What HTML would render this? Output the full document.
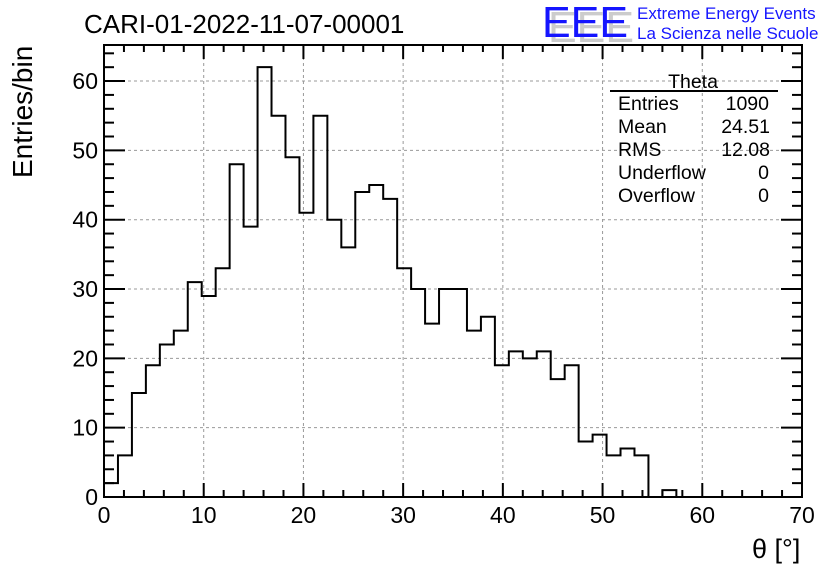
<!DOCTYPE html>
<html><head><meta charset="utf-8"><style>
html,body{margin:0;padding:0;background:#fff;}
svg{display:block;font-family:"Liberation Sans",sans-serif;}
</style></head><body>
<svg id="chart" width="836" height="572" viewBox="0 0 836 572" xmlns="http://www.w3.org/2000/svg">
<rect width="836" height="572" fill="#fff"/>
<text x="84" y="33" font-size="26" fill="#000">CARI-01-2022-11-07-00001</text>
<g>
<text x="548" y="42" font-size="44" fill="#ccc" textLength="86" lengthAdjust="spacingAndGlyphs">EEE</text>
<text x="542" y="37" font-size="44" fill="#1515ff" textLength="86" lengthAdjust="spacingAndGlyphs">EEE</text>
<text x="637" y="19" font-size="17" fill="#1515ff">Extreme Energy Events</text>
<text x="637" y="39" font-size="17" fill="#1515ff">La Scienza nelle Scuole</text>
</g>
<g id="grid"></g>
<g id="ticks"></g>
<path id="hist" fill="none" stroke="#000" stroke-width="2"/>
<rect x="104" y="45" width="698" height="452" fill="none" stroke="#000" stroke-width="2"/>
<g id="labels"></g>
<text transform="translate(32,178) rotate(-90)" font-size="28" fill="#000">Entries/bin</text>
<text x="752" y="558" font-size="27" fill="#000">θ [°]</text>
<g font-size="19.5" fill="#000">
<text x="693" y="88" text-anchor="middle">Theta</text>
<line x1="610" y1="91" x2="778" y2="91" stroke="#000" stroke-width="2"/>
<text x="618" y="110">Entries</text><text x="769" y="110" text-anchor="end">1090</text>
<text x="618" y="133">Mean</text><text x="770" y="133" text-anchor="end">24.51</text>
<text x="618" y="156">RMS</text><text x="770" y="156" text-anchor="end">12.08</text>
<text x="618" y="179">Underflow</text><text x="769" y="179" text-anchor="end">0</text>
<text x="618" y="202">Overflow</text><text x="769" y="202" text-anchor="end">0</text>
</g>
</svg>
<script>
const counts = [2,6,15,19,22,24,31,29,33,48,39,62,55,49,41,55,40,36,44,45,43,33,30,25,30,30,24,26,19,21,20,21,17,19,8,9,6,7,6,0,1,0,0,0,0,0,0,0,0,0];
const binLow = 0;
const binWidth = 1.4;
const xTicks = [0,10,20,30,40,50,60,70];
const yTicks = [0,10,20,30,40,50,60];
const X0=104,X1=802,Y0=497,Y1=45;
const xMin=0,xMax=70,yMin=0,yMax=65.2;
const sx=v=>X0+(v-xMin)/(xMax-xMin)*(X1-X0);
const sy=v=>Y0-(v-yMin)/(yMax-yMin)*(Y0-Y1);
const NS='http://www.w3.org/2000/svg';
function mk(tag,attrs,parent){const e=document.createElementNS(NS,tag);for(const k in attrs)e.setAttribute(k,attrs[k]);parent.appendChild(e);return e;}
const grid=document.getElementById('grid'),ticks=document.getElementById('ticks'),labels=document.getElementById('labels');
xTicks.forEach(v=>{
  const x=sx(v);
  if(v>xMin&&v<xMax){const l=mk('line',{x1:x,y1:Y1,x2:x,y2:Y0,stroke:'#999','stroke-dasharray':'3,3','stroke-width':1},grid);
  
  }
  const t=mk('text',{x:x,y:523,'font-size':23,'text-anchor':'middle'},labels);t.textContent=v;
  
  
});
yTicks.forEach(v=>{
  const y=sy(v);
  if(v>yMin){const l=mk('line',{x1:X0,y1:y,x2:X1,y2:y,stroke:'#999','stroke-dasharray':'3,3','stroke-width':1},grid);
  
  }
  const t=mk('text',{x:98,y:y+8,'font-size':23,'text-anchor':'end'},labels);t.textContent=v;
  
  
});
for(let v=xMin;v<=xMax+1e-9;v+=2){
  const x=sx(v),major=Math.abs(v%10)<1e-9;const L=major?14:7;
  mk('line',{x1:x,y1:Y0,x2:x,y2:Y0-L,stroke:'#000','stroke-width':2},ticks);
  mk('line',{x1:x,y1:Y1,x2:x,y2:Y1+L,stroke:'#000','stroke-width':2},ticks);
}
for(let v=yMin;v<=yMax;v+=2){
  const y=sy(v),major=v%10===0;const L=major?21:10;
  mk('line',{x1:X0,y1:y,x2:X0+L,y2:y,stroke:'#000','stroke-width':2},ticks);
  mk('line',{x1:X1,y1:y,x2:X1-L,y2:y,stroke:'#000','stroke-width':2},ticks);
}
let d='M'+sx(binLow)+','+sy(0);
let last=counts.length-1;while(last>0&&counts[last]===0)last--;
for(let i=0;i<=last;i++){
  const a=sx(binLow+i*binWidth),b=sx(binLow+(i+1)*binWidth),y=sy(counts[i]);
  d+=' L'+a+','+y+' L'+b+','+y;
}
d+=' L'+sx(binLow+(last+1)*binWidth)+','+sy(0);
document.getElementById('hist').setAttribute('d',d);
</script>
</body></html>
